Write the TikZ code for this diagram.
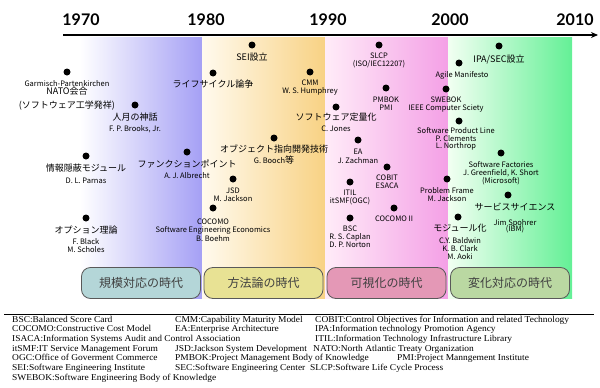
\documentclass[tikz,border=0pt]{standalone}
\usepackage{fontspec}
\setmainfont{Noto Sans CJK JP}
\newfontfamily\yearfont{Lato}
\newfontfamily\legendfont{Liberation Serif}[FakeStretch=1.05]
\usetikzlibrary{positioning,arrows.meta}

\definecolor{bandblue}{RGB}{165,160,245}
\definecolor{bandorangeL}{RGB}{255,250,238}
\definecolor{bandorange}{RGB}{248,210,132}
\definecolor{bandpinkL}{RGB}{255,236,248}
\definecolor{bandpink}{RGB}{244,160,230}
\definecolor{bandgreenL}{RGB}{242,255,242}
\definecolor{bandgreen}{RGB}{100,240,150}
\definecolor{eraA}{RGB}{180,214,216}
\definecolor{eraB}{RGB}{232,226,148}
\definecolor{eraC}{RGB}{228,152,182}
\definecolor{eraD}{RGB}{186,216,162}

\newcommand\jp[1]{{\fontsize{9}{10}\selectfont #1}}

\tikzset{
  dot/.style={circle,fill=black,minimum size=7pt,inner sep=0pt},
  evt/.style={align=center,inner sep=0pt,font=\fontsize{7.5}{8}\selectfont},
  year/.style={font=\yearfont\bfseries\fontsize{16}{18}\selectfont},
  era/.style={draw=black!65,line width=0.8pt,rounded corners=9pt,minimum width=119pt,
    minimum height=31pt,text=black!75,font=\fontsize{12}{14}\selectfont},
  legend/.style={anchor=base west,inner sep=0pt,font=\legendfont\fontsize{9}{10}\selectfont}
}

\begin{document}
\begin{tikzpicture}[x=1pt,y=-1pt]
\useasboundingbox (0,0) rectangle (600,388);

\shade[left color=white,right color=bandblue] (80,37) rectangle (202,298);
\shade[left color=bandorangeL,right color=bandorange] (202,37) rectangle (325,298);
\shade[left color=bandpinkL,right color=bandpink] (325,37) rectangle (448,298);
\shade[left color=bandgreenL,right color=bandgreen] (448,37) rectangle (572,298);

\coordinate (axisL) at (63,35);
\coordinate (axisR) at (598,35);
\draw[line width=1.3pt,-{Stealth[length=7pt,width=6pt]}] (axisL) -- (axisR);
\node[year] (y1970) at (81,20) {1970};
\node[year] (y1980) at (206,20) {1980};
\node[year] (y1990) at (328,20) {1990};
\node[year] (y2000) at (450,20) {2000};
\node[year] (y2010) at (575,20) {2010};

\node[dot] (garmisch) at (67,72) {};
\node[evt,below=4.5pt of garmisch] (garmisch-t) {Garmisch-Partenkirchen\\\jp{NATO会合}\\[5pt]\jp{(ソフトウェア工学発祥)}};
\node[dot] (brooks) at (135,105) {};
\node[evt,below=4pt of brooks] (brooks-t) {\jp{人月の神話}\\[3pt]F. P. Brooks, Jr.};
\node[dot] (parnas) at (86,156) {};
\node[evt,below=4pt of parnas] (parnas-t) {\jp{情報隠蔽モジュール}\\[4pt]D. L. Parnas};
\node[dot] (albrecht) at (187,152) {};
\node[evt,below=3.5pt of albrecht] (albrecht-t) {\jp{ファンクションポイント}\\[3pt]A. J. Albrecht};
\node[dot] (black) at (86,218) {};
\node[evt,below=4pt of black] (black-t) {\jp{オプション理論}\\[3pt]F. Black\\M. Scholes};

\node[dot] (sei) at (252,45) {};
\node[evt,below=4pt of sei] (sei-t) {\jp{SEI設立}};
\node[dot] (lifecycle) at (213,73) {};
\node[evt,below=3.5pt of lifecycle] (lifecycle-t) {\jp{ライフサイクル論争}};
\node[dot] (cmm) at (310,72) {};
\node[evt,below=4.5pt of cmm] (cmm-t) {CMM\\W. S. Humphrey};
\node[dot] (jones) at (336,107) {};
\node[evt,below=2.5pt of jones] (jones-t) {\jp{ソフトウェア定量化}\\[3pt]C. Jones};
\node[dot] (booch) at (274,138) {};
\node[evt,below=3pt of booch] (booch-t) {\jp{オブジェクト指向開発技術}\\[2pt]G. Booch\jp{等}};
\node[dot] (jsd) at (233,179) {};
\node[evt,below=5pt of jsd] (jsd-t) {JSD\\M. Jackson};
\node[dot] (boehm) at (213,208) {};
\node[evt,below=7pt of boehm] (boehm-t) {COCOMO\\Software Engineering Economics\\[1pt]B. Boehm};

\node[dot] (slcp) at (379,45) {};
\node[evt,below=4.5pt of slcp] (slcp-t) {SLCP\\(ISO/IEC12207)};
\node[dot] (pmbok) at (386,88) {};
\node[evt,below=5pt of pmbok] (pmbok-t) {PMBOK\\PMI};
\node[dot] (ea) at (358,140) {};
\node[evt,below=5pt of ea] (ea-t) {EA\\[1pt]J. Zachman};
\node[dot] (cobit) at (387,167) {};
\node[evt,below=4pt of cobit] (cobit-t) {COBIT\\ESACA};
\node[dot] (itil) at (350,182) {};
\node[evt,below=4.5pt of itil] (itil-t) {ITIL\\itSMF(OGC)};
\node[dot] (cocomo2) at (394,208) {};
\node[evt,below=4.5pt of cocomo2] (cocomo2-t) {COCOMO II};
\node[dot] (bsc) at (350,218) {};
\node[evt,below=4.5pt of bsc] (bsc-t) {BSC\\R. S. Caplan\\D. P. Norton};

\node[dot] (ipa) at (499,46) {};
\node[evt,below=5pt of ipa] (ipa-t) {\jp{IPA/SEC設立}};
\node[dot] (agile) at (459,63) {};
\node[evt,below=4.5pt of agile,xshift=3pt] (agile-t) {Agile Manifesto};
\node[dot] (swebok) at (446,89) {};
\node[evt,below=4.5pt of swebok] (swebok-t) {SWEBOK\\IEEE Computer Sciety};
\node[dot] (spl) at (459,121) {};
\node[evt,below=3pt of spl,xshift=-3pt] (spl-t) {Software Product Line};
\node[evt,below=0.8pt of spl-t] (spl-a) {P. Clements};
\node[evt,below=0.8pt of spl-a] (spl-b) {L. Northrop};
\node[dot] (factories) at (501,153) {};
\node[evt,below=5pt of factories] (factories-t) {Software Factories\\J. Greenfield, K. Short\\(Microsoft)};
\node[dot] (problem) at (447,179) {};
\node[evt,below=5pt of problem] (problem-t) {Problem Frame\\M. Jackson};
\node[dot] (service) at (508,195) {};
\node[evt,below=4.5pt of service,xshift=7pt] (service-t) {\jp{サービスサイエンス}\\[7pt]Jim Spohrer\\[-2pt](IBM)};
\node[dot] (modular) at (458,217) {};
\node[evt,below=3.5pt of modular,xshift=2pt] (modular-t) {\jp{モジュール化}\\[4pt]C.Y. Baldwin\\K. B. Clark\\M. Aoki};

\node[era,fill=eraA] (era1) at (141,283) {規模対応の時代};
\node[era,fill=eraB] (era2) at (263.5,283) {方法論の時代};
\node[era,fill=eraC] (era3) at (386.5,283) {可視化の時代};
\node[era,fill=eraD] (era4) at (510,283) {変化対応の時代};

\coordinate (ruleL) at (4,314);
\coordinate (ruleR) at (594,314);
\draw[line width=1pt] (ruleL) -- (ruleR);

\node[legend] (bsc-d) at (12,322) {BSC:Balanced Score Card};
\node[legend] (cmm-d) at (175,322) {CMM:Capability Maturity Model};
\node[legend] (cobit-d) at (315,322) {COBIT:Control Objectives for Information and related Technology};
\node[legend] (cocomo-d) at (12,331.7) {COCOMO:Constructive Cost Model};
\node[legend] (ea-d) at (175,331.7) {EA:Enterprise Architecture};
\node[legend] (ipa-d) at (315,331.7) {IPA:Information technology Promotion Agency};
\node[legend] (isaca-d) at (12,341.4) {ISACA:Information Systems Audit and Control Association};
\node[legend] (itil-d) at (315,341.4) {ITIL:Information Technology Infrastructure Library};
\node[legend] (itsmf-d) at (12,351.1) {itSMF:IT Service Management Forum};
\node[legend] (jsd-d) at (175,351.1) {JSD:Jackson System Development};
\node[legend] (nato-d) at (313,351.1) {NATO:North Atlantic Treaty Organization};
\node[legend] (ogc-d) at (12,360.8) {OGC:Office of Goverment Commerce};
\node[legend] (pmbok-d) at (175,360.8) {PMBOK:Project Management Body of Knowledge};
\node[legend] (pmi-d) at (397,360.8) {PMI:Project Manngement Institute};
\node[legend] (sei-d) at (12,370.5) {SEI:Software Engineering Institute};
\node[legend] (sec-d) at (175,370.5) {SEC:Software Engineering Center};
\node[legend] (slcp-d) at (310,370.5) {SLCP:Software Life Cycle Process};
\node[legend] (swebok-d) at (12,380.2) {SWEBOK:Software Engineering Body of Knowledge};
\end{tikzpicture}
\end{document}
